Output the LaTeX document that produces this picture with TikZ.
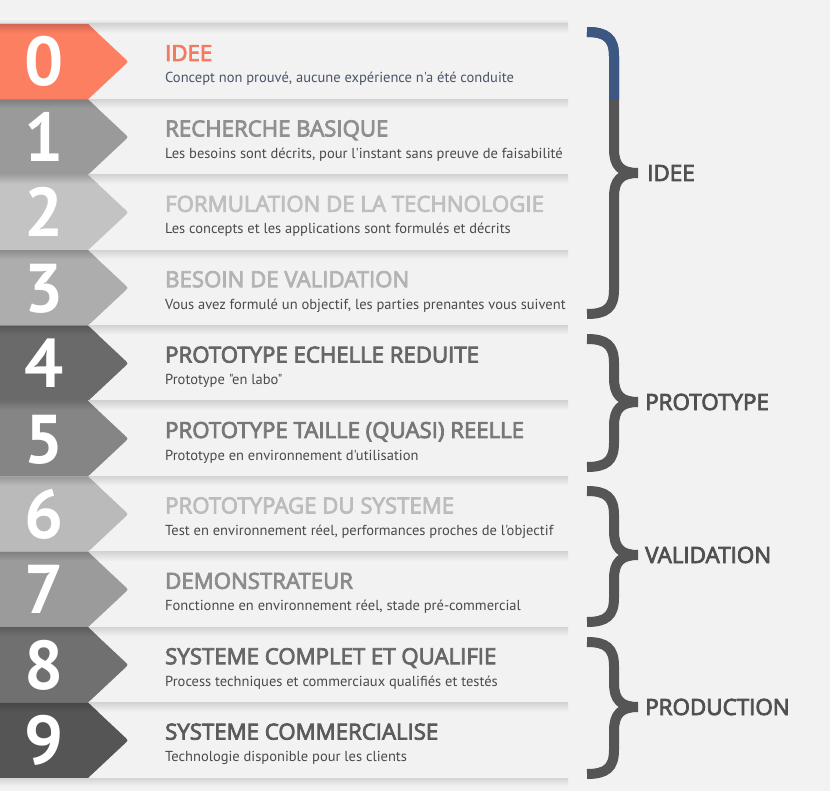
\documentclass[tikz,border=0pt]{standalone}
\usepackage{fontspec}
\newfontfamily\tlfont{PT Sans}
\newfontfamily\tlhead{Open Sans}[FakeBold=3.5]
\definecolor{bgc}{HTML}{F2F2F2}
\definecolor{shadowc}{HTML}{D4D4D4}
\definecolor{c0}{HTML}{FD7F62}
\definecolor{c1}{HTML}{9A9A9A}
\definecolor{c2}{HTML}{C3C3C3}
\definecolor{c3}{HTML}{ADADAD}
\definecolor{c4}{HTML}{6A6A6A}
\definecolor{c5}{HTML}{858585}
\definecolor{c6}{HTML}{BABABA}
\definecolor{c7}{HTML}{9B9B9B}
\definecolor{c8}{HTML}{707070}
\definecolor{c9}{HTML}{555555}
\definecolor{t0}{HTML}{F47A5E}
\definecolor{t1}{HTML}{8F8F8F}
\definecolor{t2}{HTML}{BFBFBF}
\definecolor{t3}{HTML}{B3B3B3}
\definecolor{t4}{HTML}{666666}
\definecolor{t5}{HTML}{777777}
\definecolor{t6}{HTML}{BCBCBC}
\definecolor{t7}{HTML}{8C8C8C}
\definecolor{t8}{HTML}{666666}
\definecolor{t9}{HTML}{5B5B5B}
\definecolor{s0}{HTML}{4B5469}
\definecolor{sg}{HTML}{4A4A4A}
\definecolor{bracec}{HTML}{555555}
\definecolor{blueb}{HTML}{3C5782}
\definecolor{labelc}{HTML}{505050}
\tikzset{
  numstyle/.style={anchor=base, inner sep=0pt, text=white, font=\tlfont\bfseries\fontsize{69}{69}\selectfont},
  titlestyle/.style={anchor=base west, inner sep=0pt, font=\tlhead\fontsize{22.2}{22.2}\selectfont},
  substyle/.style={anchor=base west, inner sep=0pt, font=\tlfont\fontsize{14.5}{14.5}\selectfont},
  bracestyle/.style={draw=bracec, line width=10pt},
  labelstyle/.style={anchor=base west, inner sep=0pt, text=labelc, font=\tlhead\fontsize{22.4}{22.4}\selectfont}
}
\newcommand\tlrow[6]{%
  \pgfmathsetmacro\rt{24+75.4*#1}%
  \pgfmathsetmacro\rmid{\rt+37.7}%
  \pgfmathsetmacro\rb{\rt+75.4}%
  \shade[top color=shadowc, bottom color=bgc] (88,\rt) rectangle (568,\rt+9);
  \fill[#2] (0,\rt) -- (88,\rt) -- (125.5,\rmid-2.6) .. controls (128,\rmid) .. (125.5,\rmid+2.6) -- (88,\rb) -- (0,\rb) -- cycle;
  \begin{scope}
    \clip (0,\rt) -- (88,\rt) -- (128,\rmid) -- (88,\rb) -- (0,\rb) -- cycle;
    \shade[top color=#2!82!black, bottom color=#2] (0,\rt) rectangle (130,\rt+9);
  \end{scope}
  \node[numstyle] (num#1) at (44,\rt+62) {#1};
  \node[titlestyle, text=#3] (title#1) at (165,\rt+37) {#5};
  \node[substyle, text=#4] (sub#1) at (165,\rt+59) {#6};
}
\newcommand\tlbracepath[3]{%
  (587,#1) .. controls (606,#1) and (614,#1+6) .. (614,#1+24) -- (614,#2-24) .. controls (614,#2-7) and (621,#2) .. (638,#2)
}
\newcommand\tlbracelow[3]{%
  (638,#2) .. controls (621,#2) and (614,#2+7) .. (614,#2+24) -- (614,#3-24) .. controls (614,#3-6) and (606,#3) .. (587,#3)
}
\begin{document}
\begin{tikzpicture}[x=1pt,y=-1pt]
\useasboundingbox (0,0) rectangle (830,791);
\fill[bgc] (0,0) rectangle (830,791);
\shade[top color=bgc, bottom color=shadowc!70!bgc] (0,19) rectangle (568,24);
\tlrow{0}{c0}{t0}{s0}{IDEE}{Concept non prouvé, aucune expérience n'a été conduite}
\tlrow{1}{c1}{t1}{sg}{RECHERCHE BASIQUE}{Les besoins sont décrits, pour l'instant sans preuve de faisabilité}
\tlrow{2}{c2}{t2}{sg}{FORMULATION DE LA TECHNOLOGIE}{Les concepts et les applications sont formulés et décrits}
\tlrow{3}{c3}{t3}{sg}{BESOIN DE VALIDATION}{Vous avez formulé un objectif, les parties prenantes vous suivent}
\tlrow{4}{c4}{t4}{sg}{PROTOTYPE ECHELLE REDUITE}{Prototype "en labo"}
\tlrow{5}{c5}{t5}{sg}{PROTOTYPE TAILLE (QUASI) REELLE}{Prototype en environnement d'utilisation}
\tlrow{6}{c6}{t6}{sg}{PROTOTYPAGE DU SYSTEME}{Test en environnement réel, performances proches de l'objectif}
\tlrow{7}{c7}{t7}{sg}{DEMONSTRATEUR}{Fonctionne en environnement réel, stade pré-commercial}
\tlrow{8}{c8}{t8}{sg}{SYSTEME COMPLET ET QUALIFIE}{Process techniques et commerciaux qualifiés et testés}
\tlrow{9}{c9}{t9}{sg}{SYSTEME COMMERCIALISE}{Technologie disponible pour les clients}
\shade[top color=shadowc, bottom color=bgc] (0,778) rectangle (568,786);
% braces
\draw[bracestyle] \tlbracepath{32}{173}{314};
\draw[bracestyle] \tlbracelow{32}{173}{314};
\begin{scope}
  \clip (570,0) rectangle (660,100);
  \draw[bracestyle, draw=blueb] \tlbracepath{32}{173}{314};
\end{scope}
\node[labelstyle] (lidee) at (647,181) {IDEE};
\draw[bracestyle] \tlbracepath{339}{402}{467};
\draw[bracestyle] \tlbracelow{339}{402}{467};
\node[labelstyle] (lproto) at (645,410) {PROTOTYPE};
\draw[bracestyle] \tlbracepath{491}{555}{622};
\draw[bracestyle] \tlbracelow{491}{555}{622};
\node[labelstyle] (lvalid) at (645,563) {VALIDATION};
\draw[bracestyle] \tlbracepath{642}{707}{774};
\draw[bracestyle] \tlbracelow{642}{707}{774};
\node[labelstyle] (lprod) at (645,715) {PRODUCTION};
\end{tikzpicture}
\end{document}
